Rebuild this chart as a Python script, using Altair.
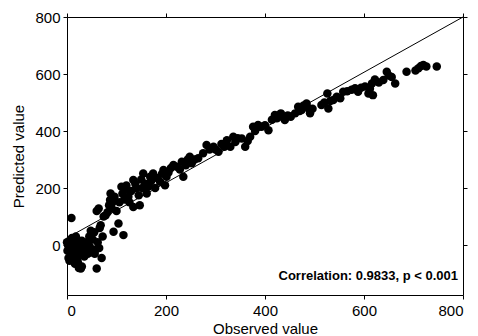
import altair as alt
import pandas as pd

# Observed / predicted values
obs = [2, 4, 5, 6, 8, 3, 5, 10, 12, 10, 14, 15, 18, 18, 20, 20, 22, 24, 28, 30,
       26, 28, 30, 32, 35, 36, 38, 40, 42, 44, 45, 48, 46, 50, 52, 55, 56, 58, 60, 62,
       65, 66, 68, 70, 72, 74, 60, 64, 9, 1, 0, 16,
       78, 82, 85, 87, 88, 90, 92, 94, 96, 100, 104, 106, 110, 112, 114, 116, 118, 120,
       124, 126, 130, 134, 134, 138, 140, 145, 147, 150, 152, 154, 158, 161, 164, 168,
       170, 174, 178, 182, 188, 192, 195, 198, 201,
       205, 210, 215, 222, 228, 232, 235, 240, 244, 248, 252, 258, 265, 275, 282, 288,
       296, 300, 306, 312, 318, 323, 330, 336, 340, 345,
       353, 360, 365, 370, 376, 380, 386, 393, 400, 407, 414, 420, 424, 428, 432, 440,
       446, 452, 461, 467, 470, 474, 478, 484, 488, 491, 496,
       514, 520, 526, 528, 532, 538, 545, 552, 558, 566, 575, 582, 588, 594, 602, 609,
       612, 616, 618, 622, 630, 639, 646, 650, 656, 663, 686, 704, 710, 715, 720, 726, 747]
pred = [0, -10, 15, -20, 5, -45, -55, -30, 10, 25, -5, -40, -20, 30, 5, -50, -60, -80, -82, -75,
        -30, -10, 15, -25, -40, 0, -15, 10, -30, -20, 30, 50, -5, -25, 20, 45, -30, -15, -82, 10,
        -10, 60, 70, -45, 30, 100, 120, 128, 95, -20, 10, -65,
        105, 115, 140, 158, 181, 130, 150, 47, 170, 120, 76, 150, 205, 180, 35, 160, 195, 209,
        170, 150, 190, 134, 228, 215, 200, 175, 140, 230, 200, 251, 215, 181, 205, 240,
        225, 251, 200, 235, 222, 250, 263, 210, 240,
        255, 270, 281, 275, 265, 292, 240, 280, 300, 310, 287, 300, 305, 322, 351, 335,
        345, 335, 327, 355, 345, 368, 345, 380, 362, 375,
        374, 345, 365, 380, 415, 400, 421, 415, 420, 403, 440, 456, 445, 450, 462, 439,
        455, 450, 462, 485, 470, 474, 490, 497, 480, 462, 478,
        491, 500, 532, 479, 505, 509, 520, 515, 538, 540, 545, 550, 538, 552, 556, 532,
        548, 567, 526, 581, 570, 579, 608, 595, 590, 567, 608, 612, 620, 628, 632, 626, 626]

line_x = [0, 800]
line_y = [25, 800]
tick_values = [0, 200, 400, 600, 800]
note_text = ["Correlation: 0.9833, p < 0.001"]
note_x = [790]
note_y = [-109]

df = pd.DataFrame({"obs": obs, "pred": pred})
ldf = pd.DataFrame({"obs": line_x, "pred": line_y})
tdf = pd.DataFrame({"obs": note_x, "pred": note_y, "label": note_text})

FONT = "Liberation Sans"
xs = alt.Scale(domain=[0, 800], nice=False, zero=False)
ys = alt.Scale(domain=[-175, 800], nice=False, zero=False)

common = dict(tickColor="black", domainColor="black", labelColor="black",
              titleColor="black", grid=False, tickSize=4, labelFont=FONT,
              titleFont=FONT, labelFontSize=15, titleFontSize=15,
              titleFontWeight="normal", values=tick_values)

xaxis = alt.Axis(title="Observed value", labelPadding=4, titlePadding=3, **common)
yaxis = alt.Axis(title="Predicted value", labelPadding=3, titlePadding=8, **common)
xtop = alt.Axis(orient="top", title=None, labels=False, **common)
yright = alt.Axis(orient="right", title=None, labels=False, **common)

points = alt.Chart(df).mark_circle(size=72, color="black", opacity=1).encode(
    x=alt.X("obs:Q", scale=xs, axis=xaxis),
    y=alt.Y("pred:Q", scale=ys, axis=yaxis),
)

line = alt.Chart(ldf).mark_line(color="black", strokeWidth=1).encode(
    x=alt.X("obs:Q", scale=xs, axis=xtop),
    y=alt.Y("pred:Q", scale=ys, axis=yright),
)

note = alt.Chart(tdf).mark_text(align="right", baseline="middle", font=FONT,
                                fontSize=13, fontWeight="bold", color="black").encode(
    x=alt.X("obs:Q", scale=xs, axis=None),
    y=alt.Y("pred:Q", scale=ys, axis=None),
    text="label:N",
)

chart = alt.layer(points, line, note).resolve_axis(
    x="independent", y="independent"
).properties(
    width=396, height=278,
    autosize=alt.AutoSizeParams(type="none"),
    padding={"left": 67, "top": 17, "right": 15, "bottom": 41},
).configure_view(stroke="black", strokeWidth=1).configure(background="white")

chart.save("out.html", embed_options={"renderer": "svg", "actions": False})
